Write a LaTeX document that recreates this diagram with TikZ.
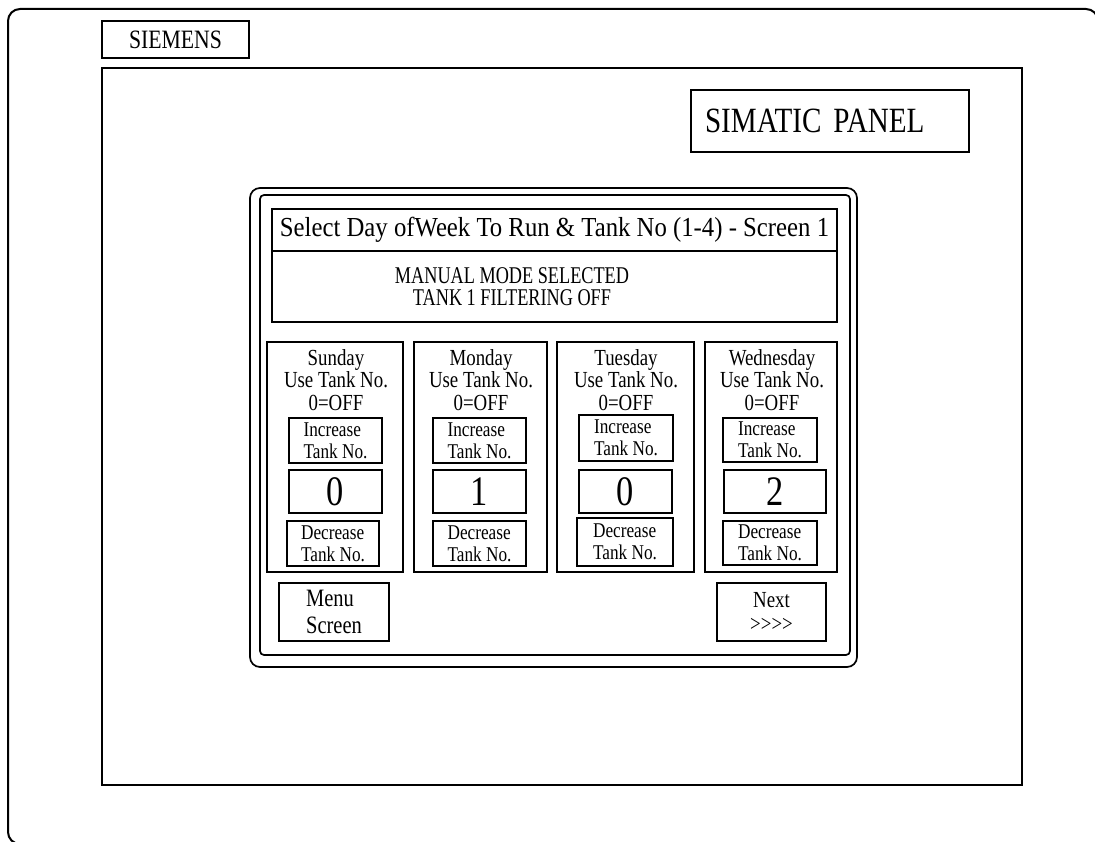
\documentclass[tikz,border=0pt]{standalone}
\usepackage{fontspec}
\setmainfont[FakeStretch=0.82]{Liberation Serif}
\newfontfamily\fa[FakeStretch=0.90]{Liberation Serif}
\newfontfamily\fc[FakeStretch=0.76]{Liberation Serif}
\begin{document}
\begin{tikzpicture}[x=1pt,y=-1pt,
  box/.style={draw, line width=1.7pt, inner sep=0pt, outer sep=0pt},
  frame/.style={draw, line width=2pt},
  daytext/.style={align=center, inner sep=0pt, font=\fontsize{23}{22.5}\selectfont},
  btn/.style={box, align=left, font=\fontsize{21}{22}\selectfont},
  valbox/.style={box, font=\fontsize{42}{44}\selectfont},
  navbtn/.style={box, align=left, font=\fontsize{25}{27}\selectfont}
]
\useasboundingbox (0,0) rectangle (1095,842);

% outer housing
\draw[frame, rounded corners=12pt] (1098,60) -- (1098,9) -- (8,9) -- (8,844) -- (120,844);

% top labels and screen
\node[box, minimum width=147pt, minimum height=37pt, font=\fontsize{26.5}{28}\selectfont] (siemens) at (175.5,39.5) {SIEMENS};
\node[box, minimum width=920pt, minimum height=717pt] (screen) at (562,426.5) {};
\node[box, minimum height=62pt, text width=250pt, inner xsep=14pt, align=left, font=\fontsize{35.5}{37}\selectfont] (simatic) at (830,121) {SIMATIC PANEL};

% panel frames
\node[box, rounded corners=10pt, minimum width=607pt, minimum height=479pt] (panelout) at (553.5,427.5) {};
\node[box, rounded corners=4pt, minimum width=590pt, minimum height=460pt] (panelin) at (555,425) {};

% title and status
\node[box, minimum width=565pt, minimum height=42pt, font=\fa\fontsize{27.5}{29}\selectfont] (titlebar) at (554.5,230) {Select Day ofWeek To Run \& Tank No (1-4) - Screen 1};
\node[box, minimum width=565pt, minimum height=71pt] (status) at (554.5,286.5) {};
\node[align=center, inner sep=0pt, font=\fc\fontsize{24}{22.5}\selectfont] (statustext) at (512,286.5) {MANUAL MODE SELECTED\\TANK 1 FILTERING OFF};

% day columns
\node[box, minimum width=136pt, minimum height=230pt] (sun) at (335,457) {};
\node[box, minimum width=133pt, minimum height=230pt] (mon) at (480.5,457) {};
\node[box, minimum width=137pt, minimum height=230pt] (tue) at (625.5,457) {};
\node[box, minimum width=132pt, minimum height=230pt] (wed) at (771,457) {};

\node[daytext] (suntext) at (336,380) {Sunday\\Use Tank No.\\0=OFF};
\node[daytext] (montext) at (481,380) {Monday\\Use Tank No.\\0=OFF};
\node[daytext] (tuetext) at (626,380) {Tuesday\\Use Tank No.\\0=OFF};
\node[daytext] (wedtext) at (772,380) {Wednesday\\Use Tank No.\\0=OFF};

% Sunday controls
\node[btn, minimum width=93pt, minimum height=45pt] (suninc) at (335.5,440.5) {Increase\\Tank No.};
\node[valbox, minimum width=93pt, minimum height=43pt] (sunval) at (335.5,491.5) {0};
\node[btn, minimum width=92pt, minimum height=45pt] (sundec) at (333,543.5) {Decrease\\Tank No.};

% Monday controls
\node[btn, minimum width=93pt, minimum height=45pt] (moninc) at (479.5,440.5) {Increase\\Tank No.};
\node[valbox, minimum width=93pt, minimum height=43pt] (monval) at (479.5,491.5) {1};
\node[btn, minimum width=93pt, minimum height=45pt] (mondec) at (479.5,543.5) {Decrease\\Tank No.};

% Tuesday controls
\node[btn, minimum width=94pt, minimum height=46pt] (tueinc) at (626,438) {Increase\\Tank No.};
\node[valbox, minimum width=93pt, minimum height=43pt] (tueval) at (625.5,491.5) {0};
\node[btn, minimum width=96pt, minimum height=48pt] (tuedec) at (625,542) {Decrease\\Tank No.};

% Wednesday controls
\node[btn, minimum width=94pt, minimum height=44pt] (wedinc) at (770,440) {Increase\\Tank No.};
\node[valbox, minimum width=102pt, minimum height=43pt] (wedval) at (775,491.5) {2};
\node[btn, minimum width=94pt, minimum height=44pt] (weddec) at (770,543) {Decrease\\Tank No.};

% navigation buttons
\node[navbtn, minimum width=110pt, minimum height=58pt] (menu) at (334,612) {Menu\\Screen};
\node[box, minimum width=109pt, minimum height=58pt, align=center, font=\fontsize{23}{24}\selectfont] (next) at (771.5,612) {Next\\>{}>{}>{}>};
\end{tikzpicture}
\end{document}
